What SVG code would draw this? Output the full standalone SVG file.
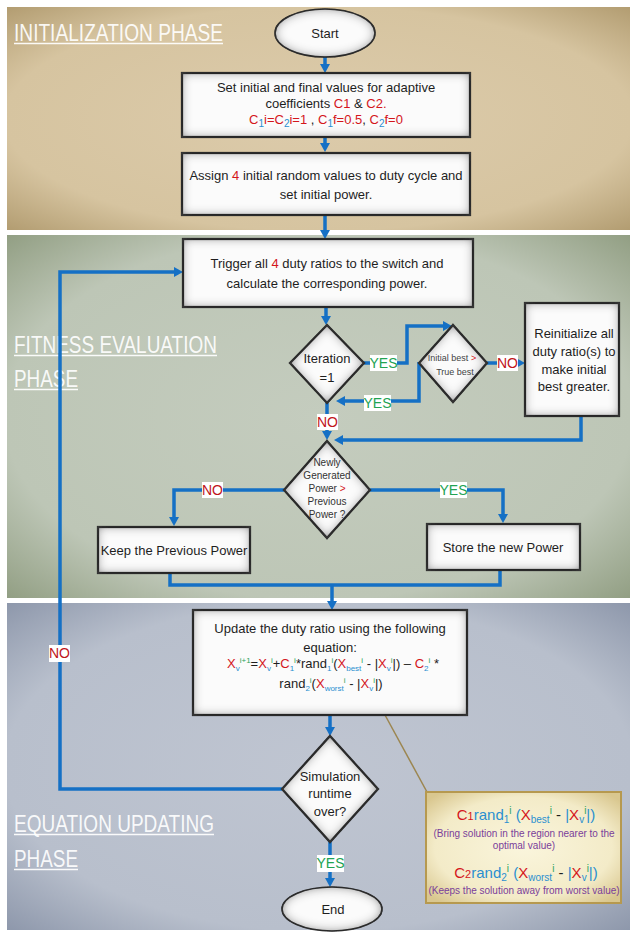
<svg xmlns="http://www.w3.org/2000/svg" width="631" height="933" viewBox="0 0 631 933">
<defs>
<radialGradient id="gInit" cx="0.5" cy="0.5" r="0.72">
<stop offset="0" stop-color="#dccbab"/><stop offset="0.7" stop-color="#d6c4a0"/><stop offset="1" stop-color="#b09a6e"/>
</radialGradient>
<radialGradient id="gFit" cx="0.5" cy="0.5" r="0.72">
<stop offset="0" stop-color="#c4ccbe"/><stop offset="0.7" stop-color="#bdc6b6"/><stop offset="1" stop-color="#8f9c80"/>
</radialGradient>
<radialGradient id="gEq" cx="0.5" cy="0.5" r="0.72">
<stop offset="0" stop-color="#bfc5d1"/><stop offset="0.7" stop-color="#b8bfcc"/><stop offset="1" stop-color="#8b95a9"/>
</radialGradient>
<radialGradient id="gNote" cx="0.5" cy="0.5" r="0.65">
<stop offset="0" stop-color="#faf5dc"/><stop offset="0.7" stop-color="#f3ebc8"/><stop offset="1" stop-color="#d9c78f"/>
</radialGradient>
<filter id="inner" x="-5%" y="-5%" width="110%" height="110%">
<feGaussianBlur in="SourceAlpha" stdDeviation="5.5" result="b"/>
<feComposite in="SourceAlpha" in2="b" operator="arithmetic" k2="1" k3="-1" result="edge"/>
<feFlood flood-color="#3c3c3c"/>
<feComposite in2="edge" operator="in" result="sh"/>
<feMerge><feMergeNode in="SourceGraphic"/><feMergeNode in="sh"/></feMerge>
</filter>
<marker id="ah" viewBox="0 0 10 10" refX="2" refY="5" markerWidth="10" markerHeight="10" markerUnits="userSpaceOnUse" orient="auto">
<path d="M0,0 L9,5 L0,10 z" fill="#1570c5"/>
</marker>
</defs>
<style>
text{font-family:"Liberation Sans",Arial,sans-serif;fill:#1e1e1e}
.t{font-size:13px;text-anchor:middle}
.sm{font-size:10px;text-anchor:middle;fill:#333}
.xs{font-size:9px;text-anchor:middle;fill:#444}
.title{font-size:24px;fill:#ffffff;fill-opacity:0.92}
.ul{stroke:#ffffff;stroke-opacity:0.92;stroke-width:1.5}
.box{fill:#fbfbfb;stroke:#1f1f1f;stroke-width:2.2;filter:url(#inner)}
.term{fill:#fbfbfb;stroke:#1f1f1f;stroke-width:1.6;filter:url(#inner)}
.conn{fill:none;stroke:#1570c5;stroke-width:3.5}
.arr{marker-end:url(#ah)}
.lbl{fill:#ffffff}
.yes{font-size:14px;text-anchor:middle;fill:#22a352}
.no{font-size:14px;text-anchor:middle;fill:#c0141b}
.r{fill:#d4161c}
.b{fill:#2a8fd0}
.g{fill:#2aa35a}
.sub{font-size:8px;baseline-shift:-3px}
.sup{font-size:8px;baseline-shift:5px}
.nsub{font-size:10px;baseline-shift:-3px}
.purple{fill:#7a3e9a;font-size:10px;text-anchor:middle}
.eq{font-size:15px;text-anchor:middle}
.es{font-size:10px;baseline-shift:-3px}
.ep{font-size:10px;baseline-shift:6px}
</style>

<rect width="631" height="933" fill="#ffffff"/>

<g id="phase-init">
<rect x="7" y="7" width="623" height="223" fill="url(#gInit)"/>
<text class="title" x="14" y="41" textLength="209" lengthAdjust="spacingAndGlyphs">INITIALIZATION PHASE</text>
<line class="ul" x1="14" y1="43.5" x2="223" y2="43.5"/>
</g>
<g id="phase-fitness">
<rect x="7" y="235" width="623" height="363" fill="url(#gFit)"/>
<text class="title" x="14" y="353" textLength="203" lengthAdjust="spacingAndGlyphs">FITNESS EVALUATION</text>
<line class="ul" x1="14" y1="355.5" x2="217" y2="355.5"/>
<text class="title" x="14" y="387" textLength="64" lengthAdjust="spacingAndGlyphs">PHASE</text>
<line class="ul" x1="14" y1="389.5" x2="78" y2="389.5"/>
</g>
<g id="phase-equation">
<rect x="7" y="603" width="623" height="327" fill="url(#gEq)"/>
<text class="title" x="14" y="832" textLength="200" lengthAdjust="spacingAndGlyphs">EQUATION UPDATING</text>
<line class="ul" x1="14" y1="834.5" x2="214" y2="834.5"/>
<text class="title" x="14" y="867" textLength="64" lengthAdjust="spacingAndGlyphs">PHASE</text>
<line class="ul" x1="14" y1="869.5" x2="78" y2="869.5"/>
</g>

<g id="connectors">
<path class="conn arr" d="M325 57 V66"/>
<path class="conn arr" d="M325 137 V145"/>
<path class="conn arr" d="M325 215 V232"/>
<path class="conn arr" d="M326 307 V318"/>
<path class="conn arr" d="M364 363 H407 V326 H445"/>
<path class="conn arr" d="M487 363 H518"/>
<path class="conn arr" d="M419 362 V401 H343"/>
<path class="conn arr" d="M327 403 V433"/>
<path class="conn arr" d="M581 416 V440 H341"/>
<path class="conn arr" d="M284 490 H174 V519"/>
<path class="conn arr" d="M370 490 H503 V516"/>
<path class="conn" d="M170 573 V585 H500 V570"/>
<path class="conn arr" d="M332 585 V603"/>
<path class="conn arr" d="M330 715 V729"/>
<path class="conn arr" d="M330 842 V880"/>
<path class="conn arr" d="M282 789 H60 V272 H176"/>
<line x1="385" y1="715" x2="427" y2="792" stroke="#9c8650" stroke-width="1.5"/>
<rect class="lbl" x="370" y="355" width="27" height="16"/>
<text class="yes" x="383.5" y="368">YES</text>
<rect class="lbl" x="497" y="355" width="21" height="16"/>
<text class="no" x="507.5" y="368">NO</text>
<rect class="lbl" x="364" y="395" width="27" height="16"/>
<text class="yes" x="377.5" y="408">YES</text>
<rect class="lbl" x="317" y="414" width="21" height="16"/>
<text class="no" x="327.5" y="427">NO</text>
<rect class="lbl" x="202" y="482" width="21" height="16"/>
<text class="no" x="212.5" y="495">NO</text>
<rect class="lbl" x="440" y="482" width="27" height="16"/>
<text class="yes" x="453.5" y="495">YES</text>
<rect class="lbl" x="49" y="645" width="21" height="17"/>
<text class="no" x="59.5" y="658">NO</text>
<rect class="lbl" x="317" y="855" width="27" height="17"/>
<text class="yes" x="330.5" y="868">YES</text>
</g>

<g id="start">
<ellipse class="term" cx="325" cy="33" rx="50" ry="24"/>
<text class="t" x="325" y="37.5">Start</text>
</g>

<g id="set-coefficients">
<rect class="box" x="182" y="73" width="288" height="64"/>
<text class="t" x="326" y="91.5">Set initial and final values for adaptive</text>
<text class="t" x="326" y="107.5">coefficients <tspan class="r">C1</tspan> &amp; <tspan class="r">C2.</tspan></text>
<text class="t" x="326" y="124"><tspan class="r">C</tspan><tspan class="b nsub">1</tspan><tspan class="r">i=C</tspan><tspan class="b nsub">2</tspan><tspan class="r">i=1</tspan> , <tspan class="r">C</tspan><tspan class="b nsub">1</tspan><tspan class="r">f=0.5</tspan>, <tspan class="r">C</tspan><tspan class="b nsub">2</tspan><tspan class="r">f=0</tspan></text>
</g>

<g id="assign-values">
<rect class="box" x="182" y="153" width="288" height="62"/>
<text class="t" x="326" y="180">Assign <tspan class="r">4</tspan> initial random values to duty cycle and</text>
<text class="t" x="326" y="199">set initial power.</text>
</g>

<g id="trigger">
<rect class="box" x="183" y="239" width="290" height="68"/>
<text class="t" x="327" y="268">Trigger all <tspan class="r">4</tspan> duty ratios to the switch and</text>
<text class="t" x="327" y="288">calculate the corresponding power.</text>
</g>

<g id="iteration">
<path class="box" d="M327 325 L364 363 L327 403 L290 363 Z"/>
<text class="t" x="327" y="362.5">Iteration</text>
<text class="t" x="327" y="381.5">=1</text>
</g>

<g id="initial-best">
<path class="box" d="M453 325 L487 363 L453 402 L419 363 Z"/>
<text class="xs" x="452" y="361">Initial best <tspan class="r">&gt;</tspan></text>
<text class="xs" x="455" y="375">True best</text>
</g>

<g id="reinitialize">
<rect class="box" x="525" y="303" width="94" height="113"/>
<text class="t" x="574" y="337.5">Reinitialize all</text>
<text class="t" x="574" y="355.5">duty ratio(s) to</text>
<text class="t" x="574" y="373.5">make initial</text>
<text class="t" x="574" y="391">best greater.</text>
</g>

<g id="compare-power">
<path class="box" d="M327 441 L370 490 L327 538 L284 490 Z"/>
<text class="sm" x="327" y="466">Newly</text>
<text class="sm" x="327" y="479">Generated</text>
<text class="sm" x="327" y="492">Power <tspan class="r">&gt;</tspan></text>
<text class="sm" x="327" y="505">Previous</text>
<text class="sm" x="327" y="518">Power ?</text>
</g>

<g id="keep-power">
<rect class="box" x="98" y="527" width="152" height="46"/>
<text class="t" x="174" y="554.5">Keep the Previous Power</text>
</g>

<g id="store-power">
<rect class="box" x="427" y="524" width="153" height="46"/>
<text class="t" x="503" y="551.5">Store the new Power</text>
</g>

<g id="update-duty">
<rect class="box" x="193" y="610" width="274" height="105"/>
<text class="t" x="330" y="632.5">Update the duty ratio using the following</text>
<text class="t" x="330" y="651.5">equation:</text>
<text class="t" x="333" y="668"><tspan class="r">X</tspan><tspan class="b sub">v</tspan><tspan class="g sup">i+1</tspan>=<tspan class="r">X</tspan><tspan class="b sub">v</tspan><tspan class="g sup">i</tspan>+<tspan class="r">C</tspan><tspan class="b sub">1</tspan><tspan class="g sup">i</tspan>*rand<tspan class="b sub">1</tspan><tspan class="g sup">i</tspan>(<tspan class="r">X</tspan><tspan class="b sub">best</tspan><tspan class="g sup">i</tspan> - |<tspan class="r">X</tspan><tspan class="b sub">v</tspan><tspan class="g sup">i</tspan>|) – <tspan class="r">C</tspan><tspan class="b sub">2</tspan><tspan class="g sup">i</tspan> *</text>
<text class="t" x="331" y="688">rand<tspan class="b sub">2</tspan><tspan class="g sup">i</tspan>(<tspan class="r">X</tspan><tspan class="b sub">worst</tspan><tspan class="g sup">i</tspan> - |<tspan class="r">X</tspan><tspan class="b sub">v</tspan><tspan class="g sup">i</tspan>|)</text>
</g>

<g id="simulation-over">
<path class="box" d="M330 736 L378 789 L330 842 L282 789 Z"/>
<text class="t" x="330" y="780.5">Simulation</text>
<text class="t" x="330" y="798">runtime</text>
<text class="t" x="330" y="815.5">over?</text>
</g>

<g id="end">
<ellipse class="term" cx="332" cy="909" rx="50" ry="22"/>
<text class="t" x="333" y="914">End</text>
</g>

<g id="note">
<rect x="426" y="792" width="195" height="111" fill="url(#gNote)" stroke="#b6994f" stroke-width="2"/>
<text class="eq" x="526" y="820"><tspan class="r">C</tspan><tspan class="r" style="font-size:11px">1</tspan><tspan class="b">rand</tspan><tspan class="b es">1</tspan><tspan class="g ep">i</tspan><tspan class="b"> (</tspan><tspan class="r">X</tspan><tspan class="b es">best</tspan><tspan class="g ep">i</tspan> - <tspan class="b">|</tspan><tspan class="r">X</tspan><tspan class="b es">v</tspan><tspan class="g ep">i</tspan><tspan class="b">|)</tspan></text>
<text class="purple" x="524" y="836.5">(Bring solution in the region nearer to the</text>
<text class="purple" x="524" y="849">optimal value)</text>
<text class="eq" x="526" y="878"><tspan class="r">C</tspan><tspan class="r" style="font-size:11px">2</tspan><tspan class="b">rand</tspan><tspan class="b es">2</tspan><tspan class="g ep">i</tspan><tspan class="b"> (</tspan><tspan class="r">X</tspan><tspan class="b es">worst</tspan><tspan class="g ep">i</tspan> - <tspan class="b">|</tspan><tspan class="r">X</tspan><tspan class="b es">v</tspan><tspan class="g ep">i</tspan><tspan class="b">|)</tspan></text>
<text class="purple" x="524" y="894">(Keeps the solution away from worst value)</text>
</g>
</svg>
